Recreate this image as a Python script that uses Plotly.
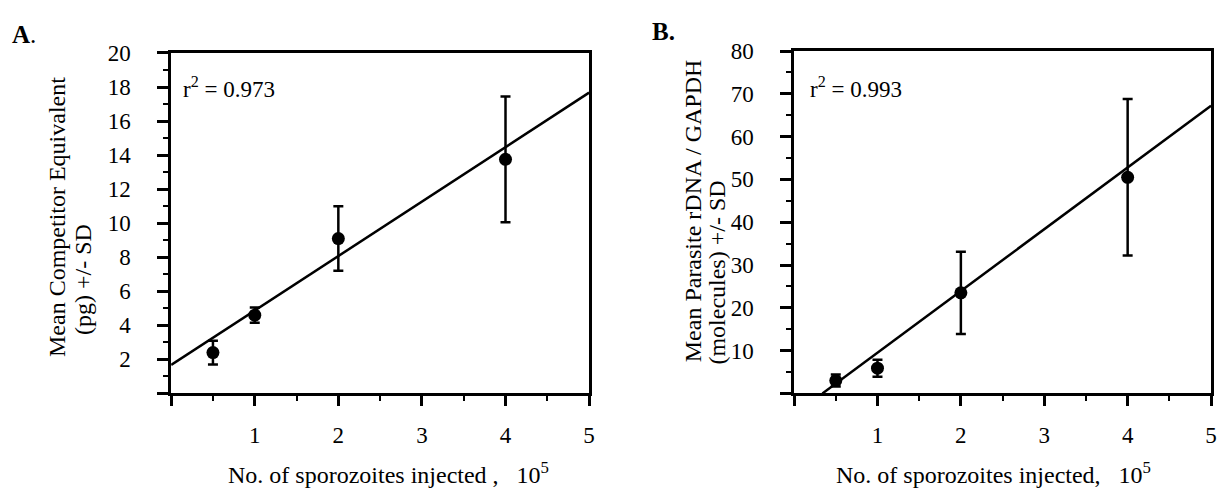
import plotly.graph_objects as go

W, H = 1224, 491

# ---- data ----
sporozoites = [0.5, 1, 2, 4]                 # x 10^5
mean_a = [2.4, 4.6, 9.1, 13.75]              # pg
sd_a = [0.7, 0.45, 1.9, 3.7]
mean_b = [3.0, 5.9, 23.5, 50.5]              # molecules
sd_b = [1.4, 2.0, 9.6, 18.3]
fit_a = [1.67, 3.2]                          # intercept, slope
fit_b = [-4.9, 14.42]
r2_a = "0.973"
r2_b = "0.993"
x_ticks = [0, 1, 2, 3, 4, 5]
y_ticks_a = [0, 2, 4, 6, 8, 10, 12, 14, 16, 18, 20]
y_ticks_b = [0, 10, 20, 30, 40, 50, 60, 70, 80]

FONT = "Liberation Serif"


def px_x(p):
    return p / W


def px_y(p):
    return 1 - p / H


def fit_line(fit, xmax=5):
    b, m = fit
    x0 = max(0.0, -b / m)
    xs = [x0, xmax]
    return xs, [b + m * x for x in xs]


fig = go.Figure()

for mean, sd, fit, xa, ya in [(mean_a, sd_a, fit_a, "x", "y"),
                              (mean_b, sd_b, fit_b, "x2", "y2")]:
    lx, ly = fit_line(fit)
    fig.add_trace(go.Scatter(x=lx, y=ly, mode="lines",
                             line=dict(color="black", width=2.5),
                             xaxis=xa, yaxis=ya, showlegend=False))
    fig.add_trace(go.Scatter(x=sporozoites, y=mean, mode="markers",
                             marker=dict(color="black", size=13),
                             error_y=dict(type="data", array=sd, visible=True,
                                          color="black", thickness=2.5, width=5),
                             xaxis=xa, yaxis=ya, showlegend=False))


def xaxis_cfg(domain, anchor):
    return dict(domain=domain, anchor=anchor, range=[0, 5],
                tickmode="array", tickvals=x_ticks,
                ticktext=["" if v == 0 else str(v) for v in x_ticks],
                ticks="outside", ticklen=10, tickwidth=2.5, tickcolor="black",
                minor=dict(tickmode="linear", tick0=0, dtick=0.5, ticks="outside",
                           ticklen=5, tickwidth=2, tickcolor="black"),
                showline=True, linewidth=3, linecolor="black", mirror=True,
                showgrid=False, zeroline=False, ticklabelstandoff=9,
                tickfont=dict(family=FONT, size=23, color="black"))


def yaxis_cfg(domain, anchor, vals, rng, minor_dt):
    return dict(domain=domain, anchor=anchor, range=rng,
                tickmode="array", tickvals=vals,
                ticktext=["" if v == 0 else str(v) for v in vals],
                ticks="outside", ticklen=11, tickwidth=2.5, tickcolor="black",
                minor=dict(tickmode="linear", tick0=0, dtick=minor_dt, ticks="outside",
                           ticklen=5, tickwidth=2, tickcolor="black"),
                showline=True, linewidth=2.5, linecolor="black", mirror=True,
                showgrid=False, zeroline=False, ticklabelstandoff=22,
                tickfont=dict(family=FONT, size=23, color="black"))


fig.update_layout(
    width=W, height=H, autosize=False,
    margin=dict(l=0, r=0, t=0, b=0),
    paper_bgcolor="white", plot_bgcolor="white",
    xaxis=xaxis_cfg([px_x(172), px_x(592)], "y"),
    yaxis=yaxis_cfg([px_y(391), px_y(42)], "x", y_ticks_a, [0, 20], 1),
    xaxis2=xaxis_cfg([px_x(798), px_x(1217)], "y2"),
    yaxis2=yaxis_cfg([px_y(391), px_y(40)], "x2", y_ticks_b, [0, 80], 5),
)

tf = dict(family=FONT, size=23, color="black")
title_font = dict(family=FONT, size=24, color="black")
ann = []
# panel labels
ann.append(dict(text="<b>A</b>.", x=px_x(10), y=px_y(23), xref="paper", yref="paper",
                xanchor="left", yanchor="middle", showarrow=False,
                font=dict(family=FONT, size=25, color="black")))
ann.append(dict(text="<b>B.</b>", x=px_x(653), y=px_y(20), xref="paper", yref="paper",
                xanchor="left", yanchor="middle", showarrow=False,
                font=dict(family=FONT, size=25, color="black")))
# r^2 texts
ann.append(dict(text="r<sup>2</sup> = " + r2_a, x=0.12, y=18.0, xref="x", yref="y",
                xanchor="left", yanchor="middle", showarrow=False, font=tf))
ann.append(dict(text="r<sup>2</sup> = " + r2_b, x=0.17, y=71.5, xref="x2", yref="y2",
                xanchor="left", yanchor="middle", showarrow=False, font=tf))
# y titles (two lines each, placed separately)
for txt, cx, bottom in [("Mean Competitor Equivalent", 58, 356),
                        ("(pg) +/- SD", 84, 333),
                        ("Mean Parasite rDNA / GAPDH", 696, 361),
                        ("(molecules) +/- SD", 721, 363)]:
    ann.append(dict(text=txt, x=px_x(cx), y=px_y(bottom), xref="paper", yref="paper",
                    xanchor="center", yanchor="bottom", textangle=-90,
                    showarrow=False, font=title_font))
# x titles
ann.append(dict(text="No. of sporozoites injected ,\u00a0\u00a0 10<sup>5</sup>",
                x=px_x(390), y=px_y(490), xref="paper", yref="paper",
                xanchor="center", yanchor="bottom", showarrow=False, font=title_font))
ann.append(dict(text="No. of sporozoites injected,\u00a0\u00a0 10<sup>5</sup>",
                x=px_x(998), y=px_y(490), xref="paper", yref="paper",
                xanchor="center", yanchor="bottom", showarrow=False, font=title_font))
fig.update_layout(annotations=ann)

fig.write_html("out.html")
